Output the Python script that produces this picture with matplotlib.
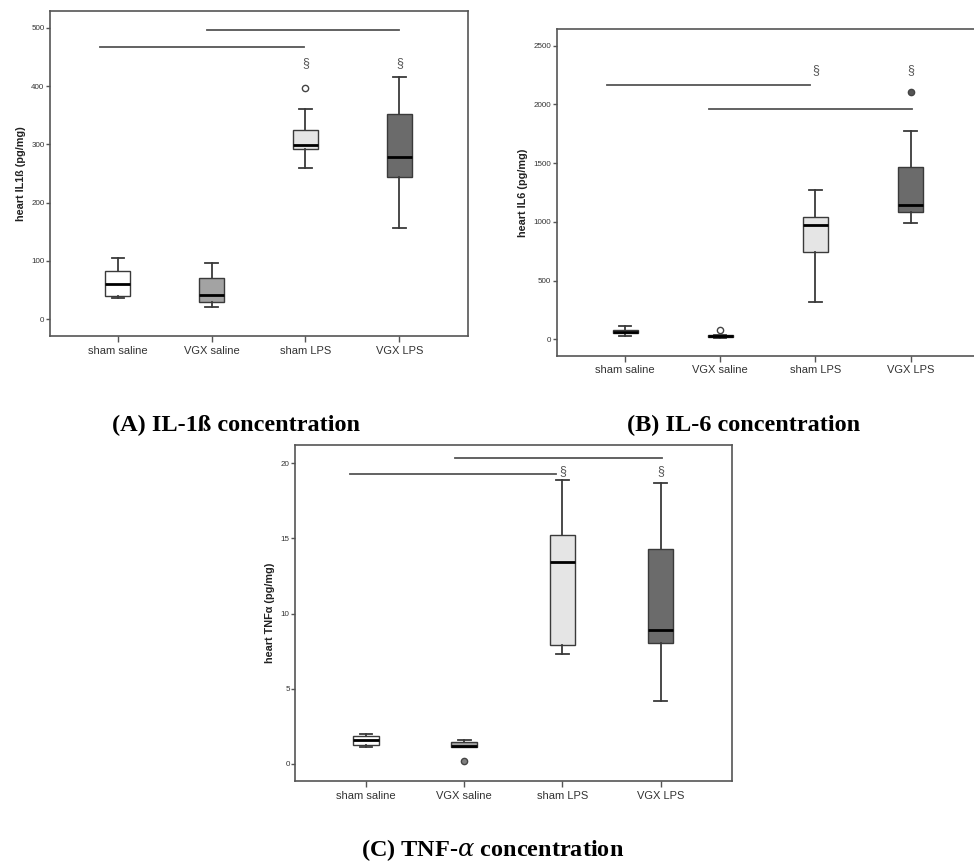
import matplotlib
matplotlib.use("Agg")
import matplotlib.pyplot as plt

plt.rcParams['font.family'] = ['Liberation Sans', 'DejaVu Sans']
plt.rcParams['mathtext.fontset'] = 'dejavuserif'

categories = ["sham saline", "VGX saline", "sham LPS", "VGX LPS"]
box_colors = ["#ffffff", "#a3a3a3", "#e5e5e5", "#6b6b6b"]

# Panel A: heart IL1ß (pg/mg)
a_whislo = [36, 21, 260, 157]
a_q1 = [40, 29, 292, 244]
a_med = [61, 41, 299, 278]
a_q3 = [83, 70, 324, 352]
a_whishi = [105, 96, 361, 416]
a_fliers = [[], [], [397], []]
a_flier_fill = [None, None, "none", None]
a_brackets = [(-0.19, 1.98, 467), (0.95, 3.0, 496)]
a_sig_y = 439
a_yticks = [0, 100, 200, 300, 400, 500]

# Panel B: heart IL6 (pg/mg)
b_whislo = [31, 15, 321, 988]
b_q1 = [51, 17, 743, 1081]
b_med = [62, 28, 970, 1141]
b_q3 = [79, 40, 1039, 1470]
b_whishi = [113, 40, 1274, 1774]
b_fliers = [[], [79], [], [2103]]
b_flier_fill = [None, "none", None, "#555555"]
b_brackets = [(-0.19, 1.94, 2165), (0.88, 3.02, 1964)]
b_sig_y = 2293
b_yticks = [0, 500, 1000, 1500, 2000, 2500]

# Panel C: heart TNFα (pg/mg)
c_whislo = [1.11, 1.10, 7.31, 4.21]
c_q1 = [1.24, 1.11, 7.91, 8.02]
c_med = [1.59, 1.20, 13.42, 8.90]
c_q3 = [1.86, 1.48, 15.19, 14.31]
c_whishi = [1.99, 1.59, 18.85, 18.65]
c_fliers = [[], [0.18], [], []]
c_flier_fill = [None, "#808080", None, None]
c_brackets = [(-0.16, 1.93, 19.29), (0.91, 3.01, 20.33)]
c_sig_y = 19.45
c_yticks = [0, 5, 10, 15, 20]

fig = plt.figure(figsize=(9.74, 8.66), dpi=100)

EDGE = "#3a3a3a"
SPINE = "#555555"


def panel(rect, ylabel, whislo, q1, med, q3, whishi, fliers, flier_fill,
          brackets, sig_y, yticks, ylim):
    ax = fig.add_axes(rect)
    stats = []
    for i, c in enumerate(categories):
        stats.append(dict(label=c, whislo=whislo[i], q1=q1[i], med=med[i],
                          q3=q3[i], whishi=whishi[i], fliers=fliers[i]))
    pos = list(range(len(categories)))
    res = ax.bxp(stats, positions=pos, widths=0.26, patch_artist=True,
                 showfliers=True,
                 boxprops=dict(edgecolor=EDGE, linewidth=1.0),
                 whiskerprops=dict(color=EDGE, linewidth=1.3),
                 capprops=dict(color=EDGE, linewidth=1.3),
                 medianprops=dict(color="black", linewidth=2.0),
                 flierprops=dict(marker="o", markersize=4.5,
                                 markeredgecolor="#444444",
                                 markerfacecolor="none",
                                 markeredgewidth=1.0))
    for patch, col in zip(res['boxes'], box_colors):
        patch.set_facecolor(col)
    for fl, fill in zip(res['fliers'], flier_fill):
        if fill is not None:
            fl.set_markerfacecolor(fill)
    for x0, x1, y in brackets:
        ax.plot([x0, x1], [y, y], color="#555555", linewidth=1.3)
    for x in (2, 3):
        ax.text(x, sig_y, "§", ha="center", va="center", fontsize=9,
                color="#555555")
    ax.set_xlim(-0.72, 3.73)
    ax.set_ylim(*ylim)
    ax.set_yticks(yticks)
    ax.set_xticks(pos)
    ax.set_xticklabels(categories)
    ax.tick_params(axis="y", labelsize=5.8, length=3, width=1,
                   color=SPINE, labelcolor="#333333", pad=1)
    ax.tick_params(axis="x", labelsize=8, length=4, width=1,
                   color=SPINE, labelcolor="#333333", pad=3)
    for s in ax.spines.values():
        s.set_color(SPINE)
        s.set_linewidth(1.2)
    ax.set_ylabel(ylabel, fontsize=7.8, fontweight="bold", color="#222222",
                  labelpad=4)
    return ax


panel([50 / 974, 1 - 336 / 866, 418 / 974, 325 / 866], "heart IL1ß (pg/mg)",
      a_whislo, a_q1, a_med, a_q3, a_whishi, a_fliers, a_flier_fill,
      a_brackets, a_sig_y, a_yticks, (-29, 529))
panel([556.7 / 974, 1 - 355.7 / 866, 423.3 / 974, 326.7 / 866],
      "heart IL6 (pg/mg)",
      b_whislo, b_q1, b_med, b_q3, b_whishi, b_fliers, b_flier_fill,
      b_brackets, b_sig_y, b_yticks, (-139, 2642))
panel([295.3 / 974, 1 - 781 / 866, 437 / 974, 336 / 866],
      "heart TNFα (pg/mg)",
      c_whislo, c_q1, c_med, c_q3, c_whishi, c_fliers, c_flier_fill,
      c_brackets, c_sig_y, c_yticks, (-1.13, 21.2))

cap_kw = dict(fontsize=17.5, fontweight="bold", family="Liberation Serif",
              ha="center", va="center", color="black")
fig.text(235.5 / 974, 1 - 425 / 866, "(A) IL-1ß concentration", **cap_kw)
fig.text(743.5 / 974, 1 - 425 / 866, "(B) IL-6 concentration", **cap_kw)
fig.text(492.5 / 974, 1 - 850 / 866, r"(C) TNF-$\alpha$ concentration", **cap_kw)

fig.savefig("out.png", dpi=100)
